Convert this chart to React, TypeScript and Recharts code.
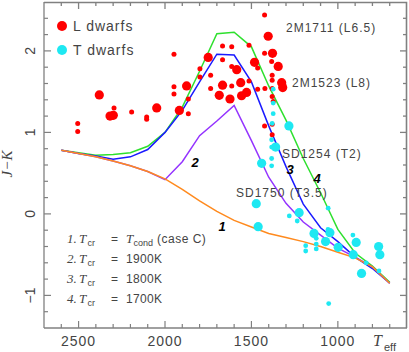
import React from 'react';
import { ComposedChart, Line, Scatter, XAxis, YAxis } from 'recharts';

// ---- model grid (Teff, K) ----
const T_GRID = [2600, 2500, 2400, 2300, 2200, 2100, 2000, 1900, 1800, 1700, 1600, 1500, 1400, 1300, 1200, 1100, 1000, 900, 800, 700];

// J-K model tracks
const caseC = [0.78, 0.74, 0.70, 0.65, 0.59, 0.52, 0.43, 0.30, 0.16, 0.03, -0.08, -0.16, -0.24, -0.29, -0.34, -0.40, -0.47, -0.54, -0.65, -0.85];
const tcr1900 = [0.78, 0.74, 0.70, 0.65, 0.59, 0.52, 0.42, 0.64, 0.96, 1.14, 1.33, 0.90, 0.45, 0.13, -0.10, -0.26, -0.42, -0.53, -0.65, -0.85];
const tcr1800 = [0.78, 0.74, 0.71, 0.67, 0.70, 0.79, 1.00, 1.27, 1.62, 1.96, 1.95, 1.62, 1.08, 0.58, 0.12, -0.17, -0.34, -0.53, -0.67, -0.85];
const tcr1700 = [0.78, 0.75, 0.72, 0.73, 0.75, 0.83, 1.00, 1.31, 1.75, 2.21, 2.23, 2.05, 1.57, 1.15, 0.68, 0.26, -0.19, -0.48, -0.64, -0.84];

// L dwarfs (large / small symbols): [Teff, J-K]
const lBigT = [2380, 2318, 2299, 2048, 1917, 1875, 1750, 1686, 1667, 1624, 1585, 1562, 1557, 1528, 1482, 1403, 1378, 1345, 1325, 1319];
const lBigJK = [1.46, 1.20, 1.21, 1.30, 1.27, 1.57, 1.92, 1.455, 1.58, 1.41, 1.77, 1.61, 1.45, 1.49, 1.86, 2.18, 1.97, 1.81, 1.61, 1.55];
const lSmallT = [2505, 2505, 2295, 2193, 2106, 2106, 1948, 1948, 1948, 1865, 1865, 1798, 1798, 1736, 1736, 1667, 1614, 1667, 1614, 1614, 1514, 1514, 1464, 1464, 1424, 1424, 1383, 1380, 1380, 1422, 1380, 1380, 1374, 1424, 1380, 1380];
const lSmallJK = [1.11, 1.01, 1.30, 1.25, 1.19, 1.16, 1.96, 1.56, 1.47, 1.41, 1.23, 1.78, 1.68, 1.70, 1.54, 2.06, 2.05, 1.89, 1.81, 1.57, 1.63, 2.07, 1.79, 1.53, 2.44, 1.97, 1.87, 1.70, 1.64, 1.54, 1.54, 1.44, 1.38, 1.08, 1.10, 0.97];

// T dwarfs (large / small symbols)
const tBigT = [1283, 1360, 1441, 1472, 1461, 1224, 1138, 1046, 1071, 998, 894, 911, 863, 764, 757];
const tBigJK = [1.08, 0.82, 0.62, 0.125, -0.157, 0.015, -0.24, -0.23, -0.34, -0.41, -0.35, -0.50, -0.73, -0.40, -0.50];
const tSmallT = [1374, 1374, 1374, 1383, 1383, 1383, 1383, 1056, 1281, 1235, 1057, 1186, 1186, 1125, 1125, 1125, 913, 836, 762, 1053, 1380];
const tSmallJK = [1.53, 1.36, 1.23, 0.91, 0.82, 0.68, 0.59, 0.07, -0.025, -0.087, -0.19, -0.39, -0.455, -0.30, -0.37, -0.43, -0.26, -0.60, -0.70, -1.10, 1.11];

// axis ticks
const X_DOMAIN = [600, 2700];
const Y_DOMAIN = [-1.4, 2.6];
const X_TICKS = [2600, 2500, 2400, 2300, 2200, 2100, 2000, 1900, 1800, 1700, 1600, 1500, 1400, 1300, 1200, 1100, 1000, 900, 800, 700];
const X_LABELS = [2500, 2000, 1500, 1000];
const Y_TICKS = [-1.2, -1, -0.8, -0.6, -0.4, -0.2, 0, 0.2, 0.4, 0.6, 0.8, 1, 1.2, 1.4, 1.6, 1.8, 2, 2.2, 2.4];
const Y_LABELS = [-1, 0, 1, 2];

const track = (vals: number[]) => T_GRID.map((t, i) => ({ T: t, v: vals[i] }));
const pts = (ts: number[], vs: number[]) => ts.map((t, i) => ({ T: t, v: vs[i] }));

const AX = '#808080';
const TXT = '#444';
const SANS = '"Liberation Sans", Arial, Helvetica, sans-serif';
const SERIF = '"Liberation Serif", "Times New Roman", serif';

// plot box (chart margins + axis sizes)
const BOX = { left: 44, top: 2, right: 407, bottom: 328 };
const framePxX = (t: number) => BOX.left + ((X_DOMAIN[1] - t) / (X_DOMAIN[1] - X_DOMAIN[0])) * (BOX.right - BOX.left);
const framePxY = (v: number) => BOX.top + ((Y_DOMAIN[1] - v) / (Y_DOMAIN[1] - Y_DOMAIN[0])) * (BOX.bottom - BOX.top);

const isMajorX = (v: number) => X_LABELS.includes(v);
const isMajorY = (v: number) => Y_LABELS.some((l) => Math.abs(l - v) < 1e-6);
const fmtY = (v: number) => (v < 0 ? '\u2212' + Math.abs(v) : String(v));

const BottomTick = (p: any) => {
  const v = p.payload.value;
  const major = isMajorX(v);
  return (
    <g>
      <line x1={p.x} y1={p.y} x2={p.x} y2={p.y - (major ? 7 : 4)} stroke={AX} strokeWidth={1.2} />
      {major && (
        <text x={p.x} y={p.y + 18} textAnchor="middle" fontSize={14} fill={TXT} fontFamily={SANS} letterSpacing={1}>
          {v}
        </text>
      )}
    </g>
  );
};
const LeftTick = (p: any) => {
  const v = p.payload.value;
  const major = isMajorY(v);
  const lx = p.x - 9;
  return (
    <g>
      <line x1={p.x} y1={p.y} x2={p.x + (major ? 7 : 4)} y2={p.y} stroke={AX} strokeWidth={1.2} />
      {major && (
        <text x={lx} y={p.y} transform={`rotate(-90 ${lx} ${p.y})`} textAnchor="middle" fontSize={14} fill={TXT} fontFamily={SANS}>
          {fmtY(v)}
        </text>
      )}
    </g>
  );
};

const dot = (r: number, fill: string) => (p: any) => <circle cx={p.cx} cy={p.cy} r={r} fill={fill} />;

const RED = '#ff0000';
const CYAN = '#1ee8f2';

export default function App() {
  const ann = { fontFamily: SANS, fill: TXT };
  return (
    <div style={{ position: 'absolute', left: 0, top: 0, width: 409, height: 352, background: '#fff' }}>
      <ComposedChart width={409} height={352} margin={{ top: 2, right: 2, bottom: 0, left: 0 }}>
        <XAxis dataKey="T" type="number" domain={X_DOMAIN} reversed allowDataOverflow
          orientation="bottom" height={24} ticks={X_TICKS} interval={0} tickSize={0} tickMargin={0}
          tickLine={false} axisLine={{ stroke: AX, strokeWidth: 1.3 }} tick={<BottomTick />} />
        <YAxis dataKey="v" type="number" domain={Y_DOMAIN} allowDataOverflow
          orientation="left" width={44} ticks={Y_TICKS} interval={0} tickSize={0} tickMargin={0}
          tickLine={false} axisLine={{ stroke: AX, strokeWidth: 1.3 }} tick={<LeftTick />} />

        <Line data={track(tcr1700)} dataKey="v" stroke="#2ee02e" strokeWidth={1.5} dot={false} isAnimationActive={false} type="linear" />
        <Line data={track(tcr1800)} dataKey="v" stroke="#1a1aff" strokeWidth={1.5} dot={false} isAnimationActive={false} type="linear" />
        <Line data={track(tcr1900)} dataKey="v" stroke="#9433ff" strokeWidth={1.5} dot={false} isAnimationActive={false} type="linear" />
        <Line data={track(caseC)} dataKey="v" stroke="#ff8a1e" strokeWidth={1.5} dot={false} isAnimationActive={false} type="linear" />

        <Scatter data={pts(lBigT, lBigJK)} dataKey="v" isAnimationActive={false} shape={dot(4.6, RED)} />
        <Scatter data={pts(lSmallT, lSmallJK)} dataKey="v" isAnimationActive={false} shape={dot(2.5, RED)} />
        <Scatter data={pts(tBigT, tBigJK)} dataKey="v" isAnimationActive={false} shape={dot(4.6, CYAN)} />
        <Scatter data={pts(tSmallT, tSmallJK)} dataKey="v" isAnimationActive={false} shape={dot(2.4, CYAN)} />
      </ComposedChart>

      <svg width={409} height={352} style={{ position: 'absolute', left: 0, top: 0, pointerEvents: 'none', overflow: 'visible' }}>
        {/* top / right frame with inward ticks */}
        <path d={`M${BOX.left} ${BOX.top + 0.5} H${BOX.right - 0.5} V${BOX.bottom}`} fill="none" stroke={AX} strokeWidth={1.6} />
        {X_TICKS.map((t) => (
          <line key={'tt' + t} x1={framePxX(t)} y1={BOX.top} x2={framePxX(t)} y2={BOX.top + (isMajorX(t) ? 7 : 4)} stroke={AX} strokeWidth={1.3} />
        ))}
        {Y_TICKS.map((v) => (
          <line key={'rt' + v} x1={BOX.right} y1={framePxY(v)} x2={BOX.right - (isMajorY(v) ? 7 : 4)} y2={framePxY(v)} stroke={AX} strokeWidth={1.3} />
        ))}

        {/* legend */}
        <circle cx={62} cy={26} r={5} fill={RED} />
        <text x={73} y={31} fontSize={14} letterSpacing={1} {...ann}>L dwarfs</text>
        <circle cx={62} cy={50} r={5} fill={CYAN} />
        <text x={73} y={55} fontSize={14} letterSpacing={1} {...ann}>T dwarfs</text>

        {/* object labels */}
        <text x={286} y={32} fontSize={12} letterSpacing={1} {...ann}>2M1711 (L6.5)</text>
        <text x={292} y={87} fontSize={12} letterSpacing={1} {...ann}>2M1523 (L8)</text>
        <text x={282} y={158} fontSize={12} letterSpacing={1} {...ann}>SD1254 (T2)</text>
        <text x={236} y={197} fontSize={12} letterSpacing={1} {...ann}>SD1750 (T3.5)</text>

        {/* track labels */}
        <text x={195} y={167} fontSize={13} fontWeight="bold" fontStyle="italic" textAnchor="middle" fontFamily={SANS} fill="#000">2</text>
        <text x={290} y={174} fontSize={13} fontWeight="bold" fontStyle="italic" textAnchor="middle" fontFamily={SANS} fill="#000">3</text>
        <text x={317} y={183} fontSize={13} fontWeight="bold" fontStyle="italic" textAnchor="middle" fontFamily={SANS} fill="#000">4</text>
        <text x={222} y={231} fontSize={13} fontWeight="bold" fontStyle="italic" textAnchor="middle" fontFamily={SANS} fill="#000">1</text>

        {/* case annotations */}
        {[
          { n: '1.', y: 243, rhs: null },
          { n: '2.', y: 263, rhs: '1900K' },
          { n: '3.', y: 283, rhs: '1800K' },
          { n: '4.', y: 303, rhs: '1700K' },
        ].map((r) => (
          <g key={r.n}>
            <text x={67} y={r.y} fontSize={13} fontStyle="italic" fontFamily={SERIF} fill={TXT}>{r.n}</text>
            <text x={79} y={r.y} fontSize={13} fontStyle="italic" fontFamily={SERIF} fill={TXT}>T</text>
            <text x={87.5} y={r.y + 3} fontSize={9} {...ann}>cr</text>
            <text x={111} y={r.y} fontSize={12} {...ann}>=</text>
            {r.rhs ? (
              <text x={126} y={r.y} fontSize={12} letterSpacing={0.3} {...ann}>{r.rhs}</text>
            ) : (
              <g>
                <text x={126} y={r.y} fontSize={13} fontStyle="italic" fontFamily={SERIF} fill={TXT}>T</text>
                <text x={133.5} y={r.y + 3} fontSize={9} {...ann}>cond</text>
                <text x={157} y={r.y} fontSize={12} letterSpacing={0.5} {...ann}>(case C)</text>
              </g>
            )}
          </g>
        ))}

        {/* axis titles */}
        <text x={12} y={164} transform="rotate(-90 12 164)" textAnchor="middle" fontSize={15} fontStyle="italic" fontFamily={SERIF} fill={TXT}>J{'\u2212'}K</text>
        <text x={373} y={346} fontSize={16} fontStyle="italic" fontFamily={SERIF} fill={TXT}>T</text>
        <text x={384} y={351} fontSize={11} {...ann}>eff</text>
      </svg>
    </div>
  );
}
